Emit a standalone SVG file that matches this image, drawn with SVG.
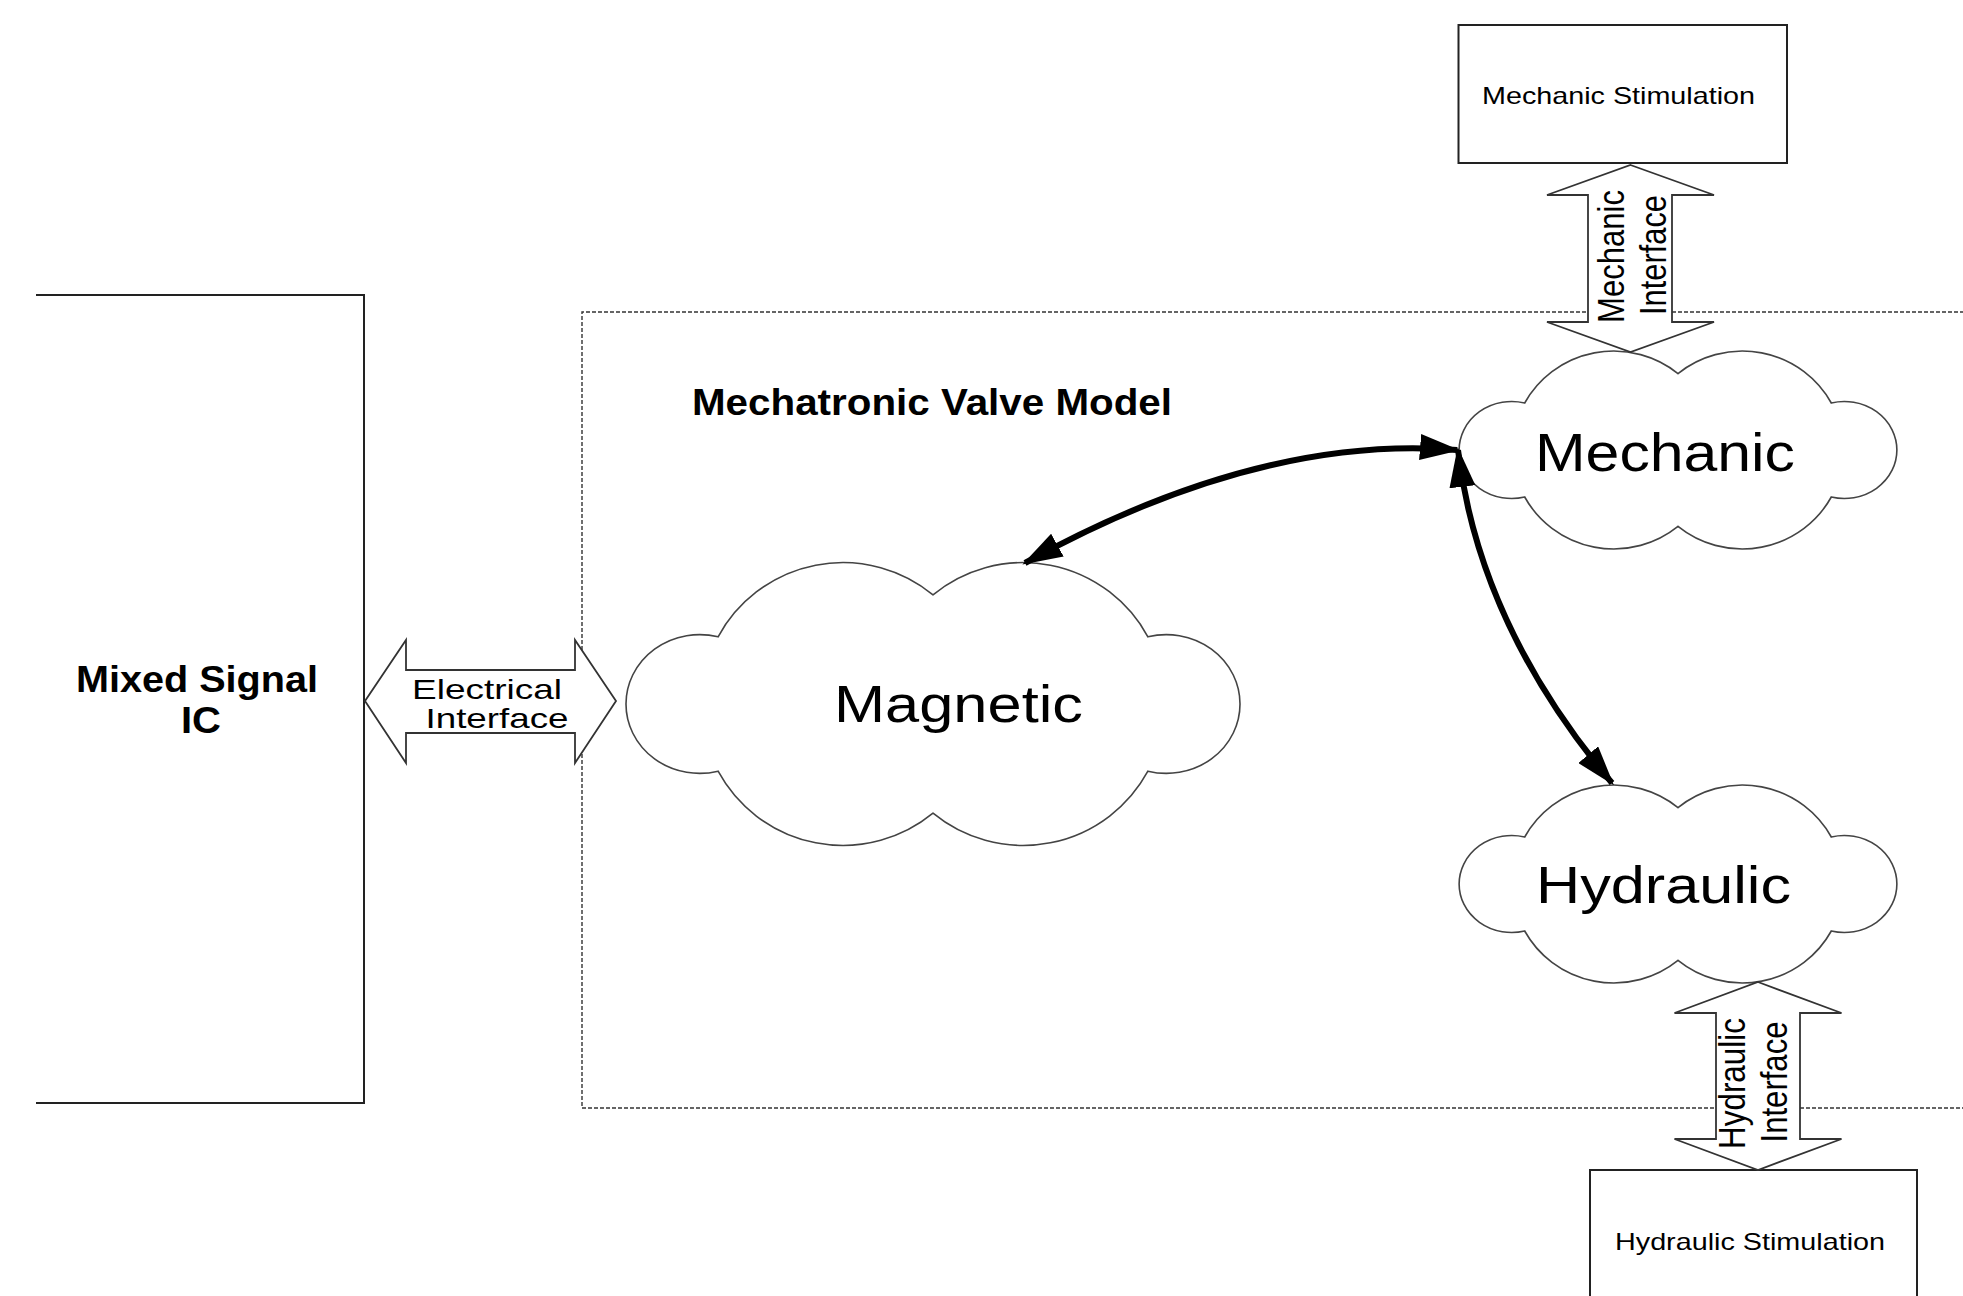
<svg xmlns="http://www.w3.org/2000/svg" width="1963" height="1296" viewBox="0 0 1963 1296">
<style>
.box{fill:none;stroke:#222;stroke-width:2}
.dash{fill:none;stroke:#333;stroke-width:1.4;stroke-dasharray:4 2}
.cloud{fill:#fff;stroke:#444;stroke-width:1.6}
.iface{fill:#fff;stroke:#333;stroke-width:1.8;stroke-linejoin:miter}
.conn{fill:none;stroke:#000;stroke-width:6}
text{font-family:"Liberation Sans",Arial,sans-serif;fill:#000}
.b{font-weight:bold}
</style>
<defs>
<marker id="ah" viewBox="0 0 40 26" refX="37" refY="13" markerWidth="40" markerHeight="26" markerUnits="userSpaceOnUse" orient="auto-start-reverse">
<path d="M0,0 L40,13 L0,26 Z" fill="#000"/>
</marker>
</defs>
<rect width="1963" height="1296" fill="#fff"/>

<g id="mechatronic-valve-model">
<path class="dash" d="M2000,312 L582,312 L582,1108 L2000,1108"/>
<text class="b" x="692" y="415" font-size="36" textLength="480" lengthAdjust="spacingAndGlyphs">Mechatronic Valve Model</text>
</g>

<g id="mixed-signal-ic">
<path class="box" d="M36,295 L364,295 L364,1103 L36,1103"/>
<text class="b" x="197" y="692" font-size="36" text-anchor="middle" textLength="242" lengthAdjust="spacingAndGlyphs">Mixed Signal</text>
<text class="b" x="201" y="733" font-size="36" text-anchor="middle" textLength="40" lengthAdjust="spacingAndGlyphs">IC</text>
</g>

<g id="mechanic-stimulation">
<rect class="box" x="1458.5" y="25" width="328.5" height="138"/>
<text x="1482" y="104" font-size="24" textLength="273" lengthAdjust="spacingAndGlyphs">Mechanic Stimulation</text>
</g>

<g id="hydraulic-stimulation">
<path class="box" d="M1590,1300 L1590,1170 L1917,1170 L1917,1300"/>
<text x="1615" y="1250" font-size="24" textLength="270" lengthAdjust="spacingAndGlyphs">Hydraulic Stimulation</text>
</g>

<g id="magnetic">
<path class="cloud" d="M718.1,636.8 A142,142 0 0 1 933,594.8 A142,142 0 0 1 1147.9,636.8 A73.7,69.4 0 1 1 1147.9,771.2 A142,142 0 0 1 933,813.2 A142,142 0 0 1 718.1,771.2 A73.7,69.4 0 1 1 718.1,636.8 Z"/>
<text x="834" y="722" font-size="52" textLength="249" lengthAdjust="spacingAndGlyphs">Magnetic</text>
</g>

<g id="mechanic">
<path class="cloud" d="M1524.7,403 A101.3,99.4 0 0 1 1678,373.6 A101.3,99.4 0 0 1 1831.3,403 A52.6,48.5 0 1 1 1831.3,497 A101.3,99.4 0 0 1 1678,526.4 A101.3,99.4 0 0 1 1524.7,497 A52.6,48.5 0 1 1 1524.7,403 Z"/>
<text x="1535" y="471" font-size="53" textLength="260" lengthAdjust="spacingAndGlyphs">Mechanic</text>
</g>

<g id="hydraulic">
<path class="cloud" d="M1524.7,837 A101.3,99.4 0 0 1 1678,807.6 A101.3,99.4 0 0 1 1831.3,837 A52.6,48.5 0 1 1 1831.3,931 A101.3,99.4 0 0 1 1678,960.4 A101.3,99.4 0 0 1 1524.7,931 A52.6,48.5 0 1 1 1524.7,837 Z"/>
<text x="1536" y="903" font-size="52" textLength="255" lengthAdjust="spacingAndGlyphs">Hydraulic</text>
</g>

<g id="connectors">
<g id="electrical-interface">
<path class="iface" d="M365,701 L406,640 L406,670 L575,670 L575,640 L616,701 L575,763 L575,733 L406,733 L406,763 Z"/>
<text x="487" y="699" font-size="28" text-anchor="middle" textLength="150" lengthAdjust="spacingAndGlyphs">Electrical</text>
<text x="497" y="728" font-size="28" text-anchor="middle" textLength="143" lengthAdjust="spacingAndGlyphs">Interface</text>
</g>
<g id="mechanic-interface">
<path class="iface" d="M1630.5,165 L1714,195 L1672,195 L1672,322 L1714,322 L1630.5,352 L1547,322 L1588,322 L1588,195 L1547,195 Z"/>
<text transform="translate(1624,256.5) scale(1.2,1) rotate(-90)" font-size="31" text-anchor="middle" textLength="133" lengthAdjust="spacingAndGlyphs">Mechanic</text>
<text transform="translate(1665.5,255) scale(1.2,1) rotate(-90)" font-size="31" text-anchor="middle" textLength="120" lengthAdjust="spacingAndGlyphs">Interface</text>
</g>
<g id="hydraulic-interface">
<path class="iface" d="M1758,982 L1841.5,1013 L1800,1013 L1800,1139 L1841.5,1139 L1758,1170 L1674.5,1139 L1716,1139 L1716,1013 L1674.5,1013 Z"/>
<text transform="translate(1745,1083.5) scale(1.2,1) rotate(-90)" font-size="31" text-anchor="middle" textLength="131" lengthAdjust="spacingAndGlyphs">Hydraulic</text>
<text transform="translate(1786.5,1082) scale(1.2,1) rotate(-90)" font-size="31" text-anchor="middle" textLength="121" lengthAdjust="spacingAndGlyphs">Interface</text>
</g>
<path id="magnetic-mechanic" class="conn" d="M1025,563 Q1259,434 1457,450" marker-start="url(#ah)" marker-end="url(#ah)"/>
<path id="mechanic-hydraulic" class="conn" d="M1458,450 Q1479,625 1612,783" marker-start="url(#ah)" marker-end="url(#ah)"/>
</g>
</svg>
